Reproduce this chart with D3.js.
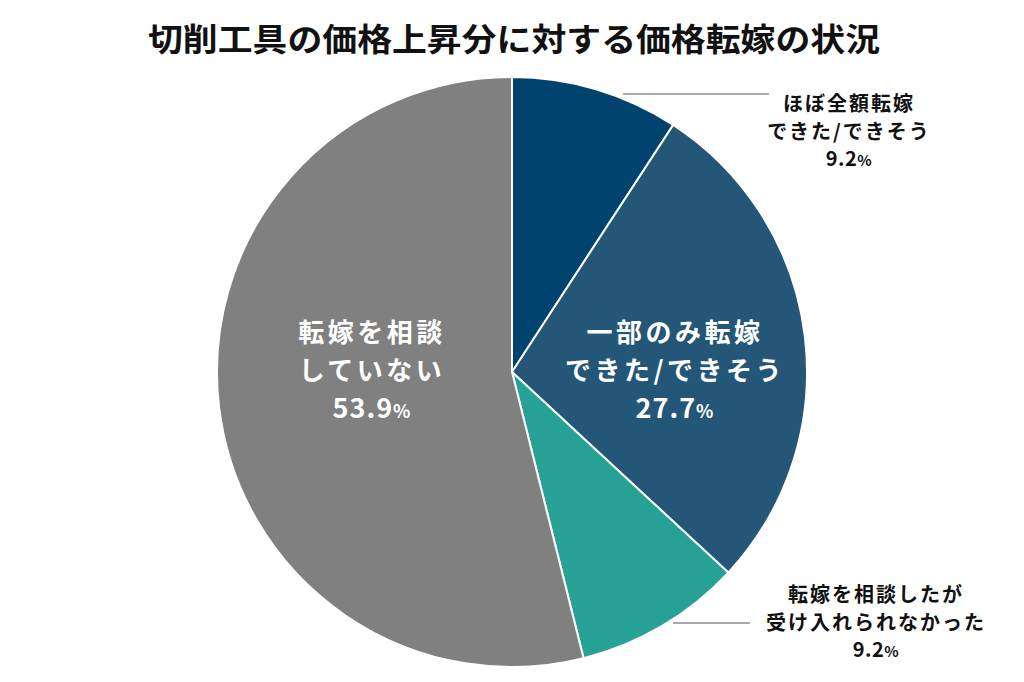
<!DOCTYPE html>
<html><head><meta charset="utf-8">
<script src="https://cdn.jsdelivr.net/npm/d3@7"></script>
<style>body{margin:0;background:#fff}svg{display:block;font-family:"Noto Sans CJK JP","Noto Sans",sans-serif}</style>
</head><body><svg id="c" width="1024" height="682"></svg>
<script>
const title = "切削工具の価格上昇分に対する価格転嫁の状況";
const categories = ["ほぼ全額転嫁できた/できそう","一部のみ転嫁できた/できそう","転嫁を相談したが受け入れられなかった","転嫁を相談していない"];
const labelLines = [["ほぼ全額転嫁","できた/できそう"],["一部のみ転嫁","できた/できそう"],["転嫁を相談したが","受け入れられなかった"],["転嫁を相談","していない"]];
const values = [9.2, 27.7, 9.2, 53.9];
const colors = ["#00436F","#235677","#26A196","#808080"];

const svg = d3.select("#c");
const cx = 512, cy = 372, R = 295;

svg.append("text").attr("x",514).attr("y",51).attr("text-anchor","middle")
  .attr("font-size",32).attr("font-weight","bold").attr("fill","#111")
  .attr("textLength",732).attr("lengthAdjust","spacingAndGlyphs").text(title);

const data = categories.map((c,i)=>({c, v:values[i], lines:labelLines[i], col:colors[i]}));
const pie = d3.pie().sort(null).value(d=>d.v);
const arcs = pie(data);
const arc = d3.arc().innerRadius(0).outerRadius(R);
const g = svg.append("g").attr("transform",`translate(${cx},${cy})`);
g.selectAll("path").data(arcs).join("path").attr("d",arc)
  .attr("fill",d=>d.data.col).attr("stroke","#fff").attr("stroke-width",2);

// inside labels
const inner = [1,3];
const innerPos = {1:[675,342], 3:[372,342]};
inner.forEach(i=>{
  const [x,y] = innerPos[i];
  const t = svg.append("text").attr("text-anchor","middle").attr("fill","#fff")
    .attr("font-size",26).attr("font-weight","bold");
  data[i].lines.forEach((l,k)=>t.append("tspan").attr("x",x).attr("y",y+k*38).attr("letter-spacing",3.5).text(l));
  const p = t.append("tspan").attr("x",x).attr("y",y+2*38).attr("font-size",27).attr("letter-spacing",1);
  p.text(values[i].toFixed(1));
  p.append("tspan").attr("font-size",18).text("%");
});

// outside labels with leader lines
const outer = [
  {i:0, x:849, y:111, lx1:623, lx2:769, ly:94},
  {i:2, x:876, y:602, lx1:673, lx2:750, ly:623}
];
outer.forEach(o=>{
  svg.append("line").attr("x1",o.lx1).attr("x2",o.lx2).attr("y1",o.ly).attr("y2",o.ly)
    .attr("stroke","#555").attr("stroke-width",1);
  const t = svg.append("text").attr("text-anchor","middle").attr("fill","#111")
    .attr("font-size",20).attr("font-weight","bold");
  data[o.i].lines.forEach((l,k)=>t.append("tspan").attr("x",o.x).attr("y",o.y+k*27.5).attr("letter-spacing",2).text(l));
  const p = t.append("tspan").attr("x",o.x).attr("y",o.y+2*27.5).attr("letter-spacing",0.5);
  p.text(values[o.i].toFixed(1));
  p.append("tspan").attr("font-size",15).text("%");
});
</script></body></html>
